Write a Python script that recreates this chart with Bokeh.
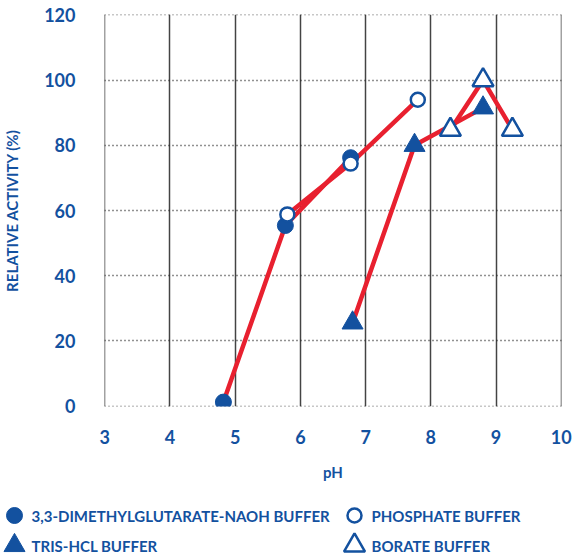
from bokeh.plotting import figure
from bokeh.layouts import column, row
from bokeh.models import Range1d, FixedTicker, ColumnDataSource
from bokeh.core.properties import value
from bokeh.embed import file_html
from bokeh.resources import INLINE

# data
dmg_ph = [4.82, 5.77, 6.77]
dmg_act = [1.2, 55.4, 76.2]
phos_ph = [5.8, 6.77, 7.8]
phos_act = [58.8, 74.4, 94.0]
tris_ph = [6.8, 7.75, 8.8]
tris_act = [25.5, 80.0, 91.5]
bor_ph = [8.3, 8.8, 9.25]
bor_act = [84.8, 100.0, 84.8]

x_ticks = [3, 4, 5, 6, 7, 8, 9, 10]
y_ticks = [0, 20, 40, 60, 80, 100, 120]

series_labels = ["3,3-DIMETHYLGLUTARATE-NAOH BUFFER", "PHOSPHATE BUFFER",
                 "TRIS-HCL BUFFER", "BORATE BUFFER"]

BLUE = "#13519f"
RED = "#e8202f"
FONT = "Lato"

p = figure(width=572, height=490, x_range=Range1d(2.997, 10.003), y_range=Range1d(-0.15, 120.15),
           output_backend="svg", toolbar_location=None,
           min_border_left=102, min_border_right=11, min_border_top=14, min_border_bottom=84)
p.outline_line_color = None

for ax in (p.xaxis, p.yaxis):
    ax.axis_line_color = None
    ax.major_tick_line_color = None
    ax.minor_tick_line_color = None
    ax.major_tick_out = 0
    ax.major_tick_in = 0
    ax.minor_tick_out = 0
    ax.minor_tick_in = 0
    ax.major_label_text_color = BLUE
    ax.major_label_text_font = FONT
    ax.major_label_text_font_style = "bold"
    ax.major_label_text_font_size = "18px"
    ax.axis_label_text_color = BLUE
    ax.axis_label_text_font = FONT
    ax.axis_label_text_font_style = "bold"

p.xaxis.ticker = FixedTicker(ticks=x_ticks)
p.yaxis.ticker = FixedTicker(ticks=y_ticks)
p.xaxis.axis_label = "pH"
p.yaxis.axis_label = "RELATIVE ACTIVITY (%)"
p.xaxis.axis_label_text_font_size = "15px"
p.yaxis.axis_label_text_font_size = "15px"
p.xaxis.major_label_standoff = 23
p.yaxis.major_label_standoff = 29
p.xaxis.axis_label_standoff = 16
p.yaxis.axis_label_standoff = 20

p.xgrid.ticker = FixedTicker(ticks=x_ticks)
p.ygrid.ticker = FixedTicker(ticks=y_ticks)
p.xgrid.grid_line_color = "#444444"
p.xgrid.grid_line_width = 1.5
p.ygrid.grid_line_color = "#222222"
p.ygrid.grid_line_dash = "1 3"
p.ygrid.grid_line_width = 1.5

for xs, ys in [(dmg_ph, dmg_act), (phos_ph, phos_act), (tris_ph, tris_act), (bor_ph, bor_act)]:
    p.line(xs, ys, line_color=RED, line_width=4.5)

p.scatter(dmg_ph, dmg_act, marker="circle", size=16, fill_color=BLUE, line_color=BLUE)
p.scatter(phos_ph, phos_act, marker="circle", size=14, fill_color="white", line_color=BLUE, line_width=2.5)
p.scatter(tris_ph, tris_act, marker="triangle", size=21, fill_color=BLUE, line_color=BLUE)
p.scatter(bor_ph, bor_act, marker="triangle", size=21, fill_color="white", line_color=BLUE, line_width=2.5)

# legend figure
lg = figure(width=572, height=67, x_range=Range1d(0, 572), y_range=Range1d(67, 0),
            output_backend="svg", toolbar_location=None,
            min_border_left=0, min_border_right=0, min_border_top=0, min_border_bottom=0)
lg.axis.visible = False
lg.grid.visible = False
lg.outline_line_color = None

mx = [14, 354, 14, 354]
my = [25, 25, 55, 55]
markers = ["circle", "circle", "triangle", "triangle"]
fills = [BLUE, "white", BLUE, "white"]
sizes = [16, 14, 21, 21]
lws = [1, 2.5, 1, 2.5]
for i in range(4):
    lg.scatter([mx[i]], [my[i]], marker=markers[i], size=sizes[i], fill_color=fills[i],
               line_color=BLUE, line_width=lws[i])
src = ColumnDataSource(dict(x=[m + 17 for m in mx], y=my, t=series_labels))
lg.text(x="x", y="y", text="t", source=src, text_color=BLUE, text_font=value(FONT),
        text_font_style="bold", text_font_size="15px", text_baseline="middle")

open("out.html", "w").write(file_html(column(p, row(lg), spacing=0), INLINE))
